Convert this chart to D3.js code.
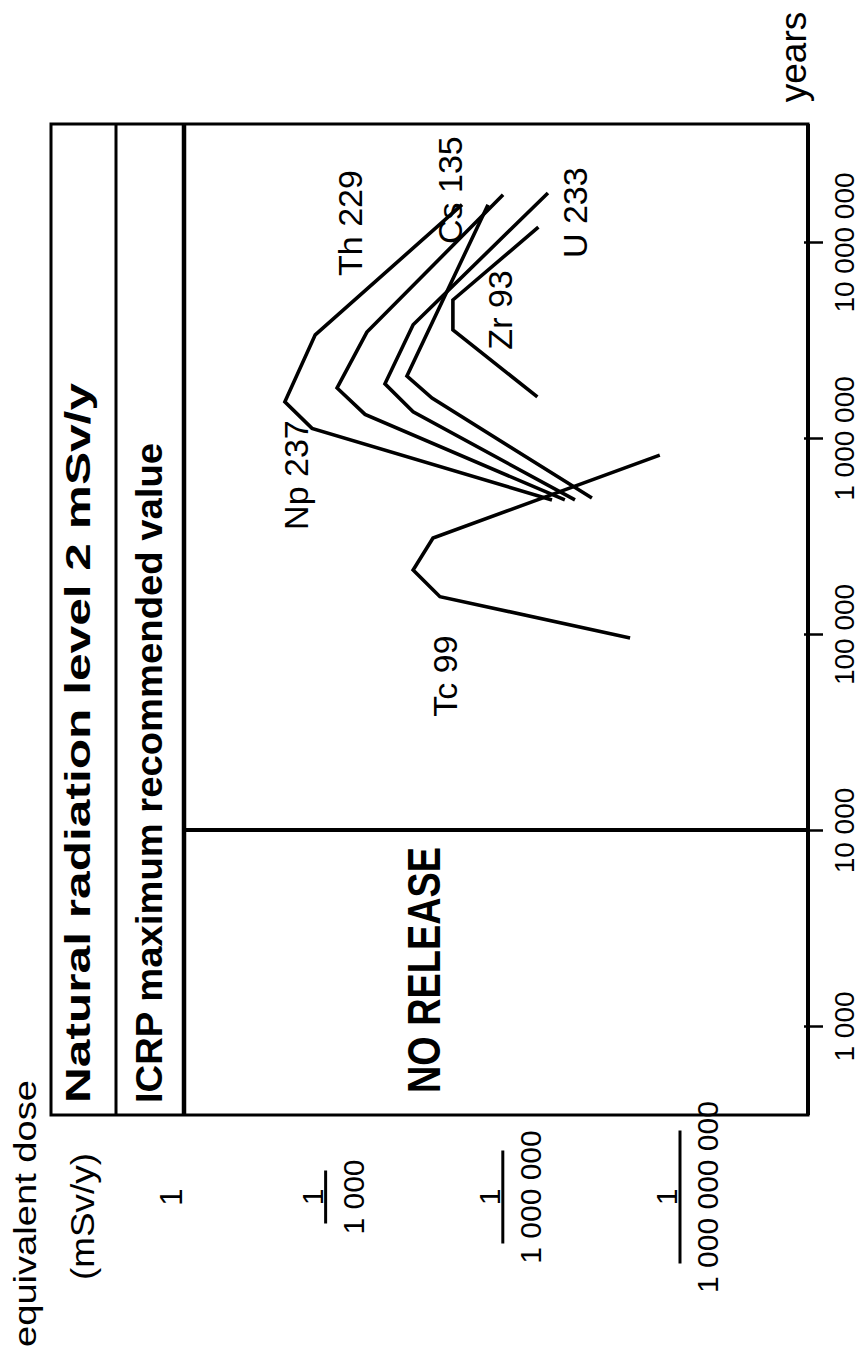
<!DOCTYPE html>
<html>
<head>
<meta charset="utf-8">
<script src="https://cdn.jsdelivr.net/npm/d3@7"></script>
<style>
  body { margin: 0; background: #fff; }
  text { font-family: "Liberation Sans", Arial, sans-serif; fill: #000; }
</style>
</head>
<body>
<svg id="chart" width="862" height="1356"></svg>
<script>
// ---- data ----
const yearTicks = [1e3, 1e4, 1e5, 1e6, 1e7];
const yearTickLabels = ["1 000", "10 000", "100 000", "1 000 000", "10 000 000"];
const doseTicks = [1, 1e-3, 1e-6, 1e-9];
const doseTickDenoms = ["", "1 000", "1 000 000", "1 000 000 000"];

const naturalLevel = 2;      // mSv/y
const icrpLimit = 0.25;      // mSv/y
const noReleaseUntil = 1e4;  // years

const nuclides = ["Np 237", "Th 229", "U 233", "Cs 135", "Zr 93", "Tc 99"];
// [years, dose mSv/y]
const np237 = [[1.55e7, 4.9e-6], [3.36e6, 1.5e-3], [1.53e6, 4.9e-3], [1.12e6, 1.7e-3], [4.83e5, 1.47e-7]];
const th229 = [[1.74e7, 9.9e-7], [3.47e6, 2.0e-4], [1.8e6, 6.4e-4], [1.32e6, 2.15e-4], [4.83e5, 8.9e-8]];
const u233  = [[1.78e7, 1.72e-7], [3.78e6, 3.3e-5], [1.89e6, 9.9e-5], [1.36e6, 3.3e-5], [4.83e5, 6.0e-8]];
const cs135 = [[1.55e7, 1.78e-6], [2.07e6, 4.2e-5], [1.6e6, 1.58e-5], [4.94e5, 3.1e-8]];
const zr93  = [[1.19e7, 2.5e-7], [5.06e6, 7.0e-6], [3.56e6, 7.0e-6], [1.62e6, 2.6e-7]];
const tc99  = [[9.55e4, 7.0e-9], [1.55e5, 1.16e-5], [2.12e5, 3.3e-5], [3.09e5, 1.52e-5], [8.18e5, 2.2e-9]];
// label anchor for each nuclide [years, dose]
const labelAt = [[6.47e5, 3.2e-3], [1.25e7, 3.9e-4], [1.41e7, 6.0e-8], [1.84e7, 7.8e-6], [4.5e6, 1.1e-6], [6.1e4, 9.5e-6]];

const series = [np237, th229, u233, cs135, zr93, tc99];

// ---- layout ----
const svg = d3.select("#chart");
const box = {left: 51, right: 808, top: 124, bottom: 1115};

// page is drawn turned a quarter: years run bottom->top, dose runs left->right (high->low)
const y = d3.scaleLog().domain([1e3, 1e7]).range([1026, 242]);
const x = d3.scaleLog().domain([naturalLevel, 1, icrpLimit, 1e-9]).range([116, 171, 184, 680]);

const rot = (px, py) => `translate(${px},${py}) rotate(-90)`;

// frame
svg.append("rect")
  .attr("x", box.left).attr("y", box.top)
  .attr("width", box.right - box.left).attr("height", box.bottom - box.top)
  .attr("fill", "none").attr("stroke", "#000").attr("stroke-width", 3);
svg.append("line")
  .attr("x1", box.right).attr("x2", box.right)
  .attr("y1", box.top).attr("y2", box.bottom)
  .attr("stroke", "#000").attr("stroke-width", 4);

// limit lines
svg.append("line")
  .attr("x1", x(naturalLevel)).attr("x2", x(naturalLevel))
  .attr("y1", box.top).attr("y2", box.bottom)
  .attr("stroke", "#000").attr("stroke-width", 3);
svg.append("line")
  .attr("x1", x(icrpLimit)).attr("x2", x(icrpLimit))
  .attr("y1", box.top).attr("y2", box.bottom)
  .attr("stroke", "#000").attr("stroke-width", 4.5);
svg.append("line")
  .attr("x1", x(icrpLimit)).attr("x2", box.right)
  .attr("y1", y(noReleaseUntil)).attr("y2", y(noReleaseUntil))
  .attr("stroke", "#000").attr("stroke-width", 4);

// band texts
svg.append("text")
  .attr("transform", rot(x(naturalLevel) - 26, 1103))
  .attr("font-weight", "bold").attr("font-size", 35)
  .attr("textLength", 720).attr("lengthAdjust", "spacingAndGlyphs")
  .text("Natural radiation level 2 mSv/y");
svg.append("text")
  .attr("transform", rot(x(icrpLimit) - 22, 1103))
  .attr("font-weight", "bold").attr("font-size", 36)
  .attr("textLength", 660).attr("lengthAdjust", "spacingAndGlyphs")
  .text("ICRP maximum recommended value");

svg.append("text")
  .attr("transform", rot(440, 1093))
  .attr("font-weight", "bold").attr("font-size", 46)
  .attr("textLength", 246).attr("lengthAdjust", "spacingAndGlyphs")
  .text("NO RELEASE");

// curves
const line = d3.line().x(d => x(d[1])).y(d => y(d[0]));
svg.append("g").selectAll("path")
  .data(series)
  .join("path")
  .attr("d", line)
  .attr("fill", "none").attr("stroke", "#000")
  .attr("stroke-width", 3.6).attr("stroke-linejoin", "miter");

svg.append("g").selectAll("text")
  .data(nuclides)
  .join("text")
  .attr("transform", (d, i) => rot(x(labelAt[i][1]), y(labelAt[i][0])))
  .attr("text-anchor", "middle").attr("dominant-baseline", "central")
  .attr("font-size", 34)
  .text(d => d);

// years axis (right side of the frame)
const yAxis = d3.axisRight(y).tickValues(yearTicks)
  .tickFormat((d, i) => yearTickLabels[i]).tickSize(15).tickPadding(0);
const gy = svg.append("g").attr("transform", `translate(${box.right},0)`).call(yAxis);
gy.select(".domain").remove();
gy.selectAll(".tick line").attr("x1", -4).attr("stroke-width", 2.5);
gy.selectAll(".tick text")
  .attr("x", 0).attr("dy", null)
  .attr("transform", "translate(46,0) rotate(-90)")
  .attr("text-anchor", "middle")
  .style("font-size", "28px").style("font-family", "'Liberation Sans', Arial, sans-serif");

svg.append("text")
  .attr("transform", rot(806, 57))
  .attr("text-anchor", "middle").attr("font-size", 37)
  .text("years");

// dose labels (under the frame)
const dl = svg.append("g").selectAll("g")
  .data(doseTicks)
  .join("g")
  .attr("transform", d => rot(x(d), 1197));
dl.filter((d, i) => i === 0).append("text")
  .attr("text-anchor", "middle").attr("dominant-baseline", "central")
  .attr("font-size", 31).text("1");
const fr = dl.filter((d, i) => i > 0);
fr.append("text")
  .attr("text-anchor", "middle").attr("y", -3)
  .attr("font-size", 30).text("1");
fr.append("line")
  .attr("x1", (d, i) => -(doseTickDenoms[i + 1].length * 10 + 3) / 2)
  .attr("x2", (d, i) => (doseTickDenoms[i + 1].length * 10 + 3) / 2)
  .attr("stroke", "#000").attr("stroke-width", 3);
fr.append("text")
  .attr("text-anchor", "middle").attr("y", 38)
  .attr("font-size", 30).text((d, i) => doseTickDenoms[i + 1]);

// dose axis title
svg.append("text")
  .attr("transform", rot(36, 1347)).attr("font-size", 32)
  .attr("textLength", 267).attr("lengthAdjust", "spacingAndGlyphs")
  .text("equivalent dose");
svg.append("text")
  .attr("transform", rot(94, 1280)).attr("font-size", 34)
  .attr("textLength", 127).attr("lengthAdjust", "spacingAndGlyphs")
  .text("(mSv/y)");
</script>
</body>
</html>
